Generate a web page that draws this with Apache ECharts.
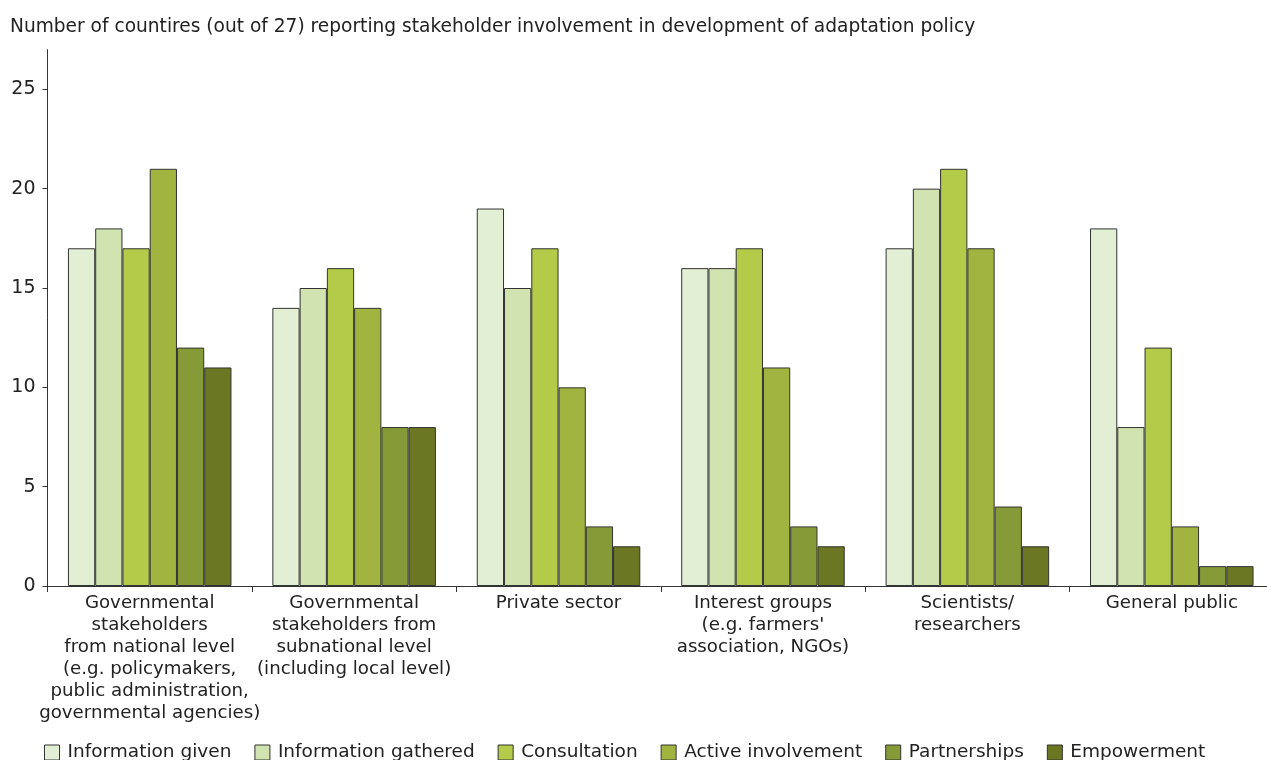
<!DOCTYPE html>
<html>
<head>
<meta charset="utf-8">
<script src="https://cdn.jsdelivr.net/npm/echarts@6/dist/echarts.min.js"></script>
<style>
html,body{margin:0;padding:0;background:#fff;overflow:hidden;width:1267px;height:760px;}
#chart{width:1275px;height:760px;}
</style>
</head>
<body>
<div id="chart"></div>
<script>
var titleText = "Number of countires (out of 27) reporting stakeholder involvement in development of adaptation policy";
var categories = [
  "Governmental\nstakeholders\nfrom national level\n(e.g. policymakers,\npublic administration,\ngovernmental agencies)",
  "Governmental\nstakeholders from\nsubnational level\n(including local level)",
  "Private sector",
  "Interest groups\n(e.g. farmers'\nassociation, NGOs)",
  "Scientists/\nresearchers",
  "General public"
];
var seriesNames = ["Information given", "Information gathered", "Consultation", "Active involvement", "Partnerships", "Empowerment"];
var informationGiven    = [17, 14, 19, 16, 17, 18];
var informationGathered = [18, 15, 15, 16, 20, 8];
var consultation        = [17, 16, 17, 17, 21, 12];
var activeInvolvement   = [21, 14, 10, 11, 17, 3];
var partnerships        = [12, 8, 3, 3, 4, 1];
var empowerment         = [11, 8, 2, 2, 2, 1];
var yTicks = [0, 5, 10, 15, 20, 25];
var colors = ["#e3efd5", "#d0e3b0", "#b4cb4a", "#a1b43f", "#869a38", "#6b7723"];

var seriesData = [informationGiven, informationGathered, consultation, activeInvolvement, partnerships, empowerment];
var font = "'DejaVu Sans', Verdana, sans-serif";

var chart = echarts.init(document.getElementById('chart'), null, {renderer: 'canvas'});
chart.setOption({
  animation: false,
  color: colors,
  textStyle: {fontFamily: font, color: '#222'},
  title: {
    text: titleText,
    left: 5, top: 13,
    textStyle: {fontFamily: font, fontSize: 18.6, fontWeight: 'normal', color: '#222'}
  },
  legend: {
    left: 39, top: 738,
    itemWidth: 15, itemHeight: 15, itemGap: 23,
    icon: 'rect',
    textStyle: {fontFamily: font, fontSize: 18.5, color: '#222', padding: [0, 0, 0, 3]},
    data: seriesNames.map(function(n, i){ return {name: n, itemStyle: {color: colors[i], borderColor: '#333', borderWidth: 1}}; })
  },
  grid: {left: 47.5, right: 1, top: 49.6, bottom: 174, containLabel: false},
  xAxis: {
    type: 'category',
    data: categories,
    axisLine: {lineStyle: {color: '#333', width: 1}},
    axisTick: {show: true, length: 6, lineStyle: {color: '#333'}},
    axisLabel: {interval: 0, fontFamily: font, fontSize: 18.2, color: '#222', lineHeight: 22, margin: 6}
  },
  yAxis: {
    type: 'value',
    min: 0, max: 27, interval: 5,
    splitLine: {show: false},
    axisLine: {show: true, lineStyle: {color: '#333', width: 1}},
    axisTick: {show: true, length: 5, lineStyle: {color: '#333'}, customValues: yTicks},
    axisLabel: {fontFamily: font, fontSize: 19, color: '#222', margin: 12, customValues: yTicks}
  },
  series: seriesNames.map(function(n, i){
    return {
      name: n, type: 'bar',
      data: seriesData[i],
      barGap: '0%', barCategoryGap: '20%',
      itemStyle: {color: colors[i], borderColor: '#333', borderWidth: 1}
    };
  })
});
</script>
</body>
</html>
